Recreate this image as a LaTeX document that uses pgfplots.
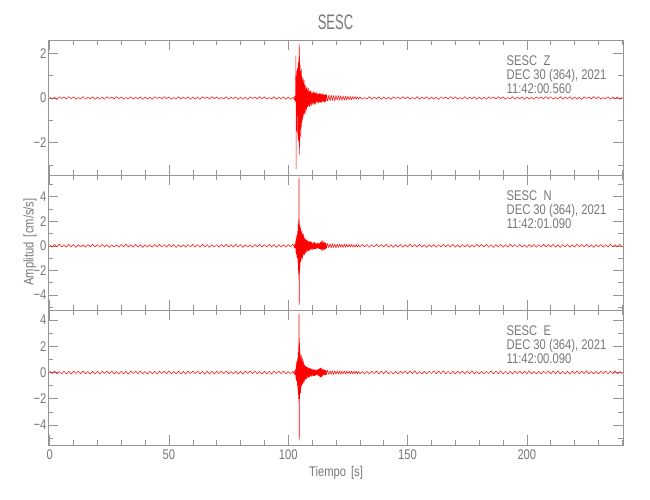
\documentclass[border=0pt]{standalone}
\usepackage{fontspec}
\setmainfont[FakeStretch=0.8]{Liberation Sans}
\newfontfamily\titlefont[FakeStretch=0.62]{Liberation Sans}
\usepackage{pgfplots}
\usepackage{pgfplotstable}
\pgfplotsset{compat=1.18}
\definecolor{axgray}{RGB}{150,150,150}
\definecolor{txtgray}{RGB}{120,120,120}

\pgfplotstableread{
t z n e
0 0.04 0.09 0.11
1 -0.05 -0.12 -0.09
2 0.03 0.11 0.12
3 -0.06 -0.08 -0.10
4 0.05 0.13 0.08
5 -0.02 -0.10 -0.12
6 0.04 0.09 0.10
7 -0.04 -0.11 -0.11
8 0.06 0.12 0.09
9 -0.03 -0.09 -0.13
10 0.05 0.10 0.11
11 -0.05 -0.13 -0.08
12 0.02 0.08 0.11
13 -0.04 -0.10 -0.09
14 0.06 0.09 0.12
15 -0.05 -0.12 -0.10
16 0.03 0.11 0.08
17 -0.03 -0.08 -0.12
18 0.05 0.13 0.10
19 -0.06 -0.10 -0.11
20 0.04 0.09 0.09
21 -0.05 -0.11 -0.13
22 0.03 0.12 0.11
23 -0.06 -0.09 -0.08
24 0.05 0.10 0.11
25 -0.02 -0.13 -0.09
26 0.04 0.08 0.12
27 -0.04 -0.10 -0.10
28 0.06 0.09 0.08
29 -0.03 -0.12 -0.12
30 0.05 0.11 0.10
31 -0.05 -0.08 -0.11
32 0.02 0.13 0.09
33 -0.04 -0.10 -0.13
34 0.06 0.09 0.11
35 -0.05 -0.11 -0.08
36 0.03 0.12 0.11
37 -0.03 -0.09 -0.09
38 0.05 0.10 0.12
39 -0.06 -0.13 -0.10
40 0.04 0.08 0.08
41 -0.05 -0.10 -0.12
42 0.03 0.09 0.10
43 -0.06 -0.12 -0.11
44 0.05 0.11 0.09
45 -0.02 -0.08 -0.13
46 0.04 0.13 0.11
47 -0.04 -0.10 -0.08
48 0.06 0.09 0.11
49 -0.03 -0.11 -0.09
50 0.05 0.12 0.12
51 -0.05 -0.09 -0.10
52 0.02 0.10 0.08
53 -0.04 -0.13 -0.12
54 0.06 0.08 0.10
55 -0.05 -0.10 -0.11
56 0.03 0.09 0.09
57 -0.03 -0.12 -0.13
58 0.05 0.11 0.11
59 -0.06 -0.08 -0.08
60 0.04 0.13 0.11
61 -0.05 -0.10 -0.09
62 0.03 0.09 0.12
63 -0.06 -0.11 -0.10
64 0.05 0.12 0.08
65 -0.02 -0.09 -0.12
66 0.04 0.10 0.10
67 -0.04 -0.13 -0.11
68 0.06 0.08 0.09
69 -0.03 -0.10 -0.13
70 0.05 0.09 0.11
71 -0.05 -0.12 -0.08
72 0.02 0.11 0.11
73 -0.04 -0.08 -0.09
74 0.06 0.13 0.12
75 -0.05 -0.10 -0.10
76 0.03 0.09 0.08
77 -0.03 -0.11 -0.12
78 0.05 0.12 0.10
79 -0.06 -0.09 -0.11
80 0.04 0.10 0.09
81 -0.05 -0.13 -0.13
82 0.03 0.08 0.11
83 -0.06 -0.10 -0.08
84 0.05 0.09 0.11
85 -0.02 -0.12 -0.09
86 0.04 0.11 0.12
87 -0.04 -0.08 -0.10
88 0.06 0.13 0.08
89 -0.03 -0.10 -0.12
90 0.05 0.09 0.10
91 -0.05 -0.11 -0.11
92 0.02 0.12 0.09
93 -0.04 -0.09 -0.13
94 0.06 0.10 0.11
95 -0.05 -0.13 -0.08
96 0.03 0.08 0.11
97 -0.03 -0.10 -0.09
98 0.05 0.09 0.12
99 -0.06 -0.12 -0.10
100 0.04 0.11 0.08
101 -0.05 -0.08 -0.12
102 0.03 0.13 0.10
102.6 -0.08 -0.15 -0.14
102.7 0.10 0.14 0.15
102.8 -0.12 -0.16 -0.15
102.9 0.10 0.15 0.16
103.0 -0.15 -0.20 -0.20
103.1 0.5 0.4 0.3
103.2 1.9 -0.6 -0.5
103.3 -3.2 0.8 0.6
103.4 1.2 -0.7 -0.6
103.5 -1.5 0.6 0.8
103.6 1.0 -0.9 -0.7
103.7 -0.8 0.9 0.9
103.8 1.3 -1.0 -1.0
103.9 -1.6 1.2 1.1
104.0 1.4 -1.4 -1.3
104.1 -1.9 1.8 1.5
104.2 1.6 -2.0 -1.7
104.3 -1.2 2.2 2.0
104.4 1.8 -2.7 -2.3
104.5 -2.0 5.56 4.5
104.6 2.43 -4.82 -5.14
104.7 -2.54 2.0 2.6
104.8 1.9 -2.2 -2.0
104.9 -1.7 1.6 1.8
105.0 1.5 -1.7 -1.5
105.1 -1.4 1.5 1.4
105.2 1.2 -1.3 -1.6
105.3 -1.8 1.4 1.2
105.4 1.0 -1.2 -1.1
105.5 -1.3 1.1 1.3
105.6 1.3 -1.0 -1.0
105.7 -1.1 1.2 1.0
105.8 0.9 -0.9 -0.9
105.9 -0.9 1.0 1.1
106.0 0.8 -1.1 -0.9
106.1 -1.0 0.9 0.8
106.2 0.9 -0.8 -0.8
106.3 -0.7 1.0 0.9
106.4 0.6 -0.7 -0.7
106.5 -0.8 0.8 0.7
106.6 0.8 -0.7 -0.75
106.7 -0.7 0.6 0.6
106.8 0.5 -0.75 -0.6
106.9 -0.6 0.6 0.55
107.0 0.6 -0.5 -0.6
107.1 -0.7 0.65 0.5
107.2 0.55 -0.55 -0.55
107.3 -0.5 0.5 0.5
107.4 0.4 -0.6 -0.45
107.5 -0.6 0.45 0.45
107.6 0.45 -0.5 -0.5
107.7 -0.5 0.5 0.4
107.8 0.5 -0.4 -0.45
107.9 -0.4 0.45 0.4
108.0 0.4 -0.45 -0.4
108.2 -0.4 0.4 0.38
108.4 0.45 -0.45 -0.4
108.6 -0.35 0.35 0.35
108.8 0.3 -0.4 -0.33
109.0 -0.4 0.35 0.35
109.2 0.35 -0.3 -0.3
109.4 -0.3 0.35 0.3
109.6 0.3 -0.3 -0.32
109.8 -0.35 0.3 0.28
110.0 0.25 -0.35 -0.3
110.2 -0.3 0.28 0.26
110.4 0.3 -0.3 -0.25
110.6 -0.25 0.25 0.25
110.8 0.28 -0.28 -0.27
111.0 -0.3 0.3 0.22
111.2 0.22 -0.25 -0.25
111.4 -0.25 0.22 0.22
111.6 0.25 -0.25 -0.2
111.8 -0.2 0.2 0.22
112.0 0.25 -0.22 -0.2
112.2 -0.22 0.25 0.22
112.4 0.2 -0.2 -0.24
112.6 -0.24 0.22 0.26
112.8 0.2 -0.25 -0.28
113.0 -0.18 0.2 0.3
113.2 0.22 -0.25 -0.32
113.4 -0.2 0.3 0.36
113.6 0.18 -0.3 -0.38
113.8 -0.22 0.35 0.35
114.0 0.2 -0.4 -0.33
114.2 -0.18 0.45 0.3
114.4 0.2 -0.4 -0.28
114.6 -0.16 0.42 0.25
114.8 0.18 -0.35 -0.22
115.0 -0.2 0.3 0.22
115.2 0.15 -0.32 -0.2
115.4 -0.18 0.25 0.2
115.6 0.16 -0.25 -0.18
115.8 -0.15 0.22 0.17
116.0 0.15 -0.2 -0.16
116.5 -0.15 0.2 0.17
117.0 0.14 -0.18 -0.16
117.5 -0.13 0.18 0.15
118.0 0.14 -0.16 -0.16
118.5 -0.12 0.17 0.14
119.0 0.12 -0.15 -0.15
119.5 -0.13 0.15 0.14
120.0 0.11 -0.16 -0.13
120.5 -0.1 0.14 0.13
121.0 0.12 -0.14 -0.14
121.5 -0.1 0.15 0.12
122.0 0.1 -0.13 -0.13
122.5 -0.11 0.12 0.12
123.0 0.09 -0.14 -0.11
123.5 -0.1 0.13 0.12
124.0 0.08 -0.12 -0.11
124.5 -0.09 0.12 0.11
125.0 0.08 -0.11 -0.1
125.5 -0.08 0.12 0.11
126.0 0.07 -0.1 -0.1
126.5 -0.08 0.11 0.1
127.0 0.07 -0.1 -0.1
127.5 -0.06 0.1 0.1
128.0 0.07 -0.11 -0.09
128.5 -0.06 0.1 0.1
129.0 0.06 -0.1 -0.1
129.5 -0.06 0.09 0.09
130.0 0.05 -0.1 -0.1
131 -0.05 0.10 0.08
132 0.02 -0.09 -0.11
133 -0.04 0.11 0.09
134 0.06 -0.12 -0.12
135 -0.05 0.09 0.10
136 0.03 -0.10 -0.08
137 -0.03 0.13 0.12
138 0.05 -0.08 -0.10
139 -0.06 0.10 0.11
140 0.04 -0.09 -0.09
141 -0.05 0.12 0.13
142 0.03 -0.11 -0.11
143 -0.06 0.08 0.08
144 0.05 -0.13 -0.11
145 -0.02 0.10 0.09
146 0.04 -0.09 -0.12
147 -0.04 0.11 0.10
148 0.06 -0.12 -0.08
149 -0.03 0.09 0.12
150 0.05 -0.10 -0.10
151 -0.05 0.13 0.11
152 0.02 -0.08 -0.09
153 -0.04 0.10 0.13
154 0.06 -0.09 -0.11
155 -0.05 0.12 0.08
156 0.03 -0.11 -0.11
157 -0.03 0.08 0.09
158 0.05 -0.13 -0.12
159 -0.06 0.10 0.10
160 0.04 -0.09 -0.08
161 -0.05 0.11 0.12
162 0.03 -0.12 -0.10
163 -0.06 0.09 0.11
164 0.05 -0.10 -0.09
165 -0.02 0.13 0.13
166 0.04 -0.08 -0.11
167 -0.04 0.10 0.08
168 0.06 -0.09 -0.11
169 -0.03 0.12 0.09
170 0.05 -0.11 -0.12
171 -0.05 0.08 0.10
172 0.02 -0.13 -0.08
173 -0.04 0.10 0.12
174 0.06 -0.09 -0.10
175 -0.05 0.11 0.11
176 0.03 -0.12 -0.09
177 -0.03 0.09 0.13
178 0.05 -0.10 -0.11
179 -0.06 0.13 0.08
180 0.04 -0.08 -0.11
181 -0.05 0.10 0.09
182 0.03 -0.09 -0.12
183 -0.06 0.12 0.10
184 0.05 -0.11 -0.08
185 -0.02 0.08 0.12
186 0.04 -0.13 -0.10
187 -0.04 0.10 0.11
188 0.06 -0.09 -0.09
189 -0.03 0.11 0.13
190 0.05 -0.12 -0.11
191 -0.05 0.09 0.08
192 0.02 -0.10 -0.11
193 -0.04 0.13 0.09
194 0.06 -0.08 -0.12
195 -0.05 0.10 0.10
196 0.03 -0.09 -0.08
197 -0.03 0.12 0.12
198 0.05 -0.11 -0.10
199 -0.06 0.08 0.11
200 0.04 -0.13 -0.09
201 -0.05 0.10 0.13
202 0.03 -0.09 -0.11
203 -0.06 0.11 0.08
204 0.05 -0.12 -0.11
205 -0.02 0.09 0.09
206 0.04 -0.10 -0.12
207 -0.04 0.13 0.10
208 0.06 -0.08 -0.08
209 -0.03 0.10 0.12
210 0.05 -0.09 -0.10
211 -0.05 0.12 0.11
212 0.02 -0.11 -0.09
213 -0.04 0.08 0.13
214 0.06 -0.13 -0.11
215 -0.05 0.10 0.08
216 0.03 -0.09 -0.11
217 -0.03 0.11 0.09
218 0.05 -0.12 -0.12
219 -0.06 0.09 0.10
220 0.04 -0.10 -0.08
221 -0.05 0.13 0.12
222 0.03 -0.08 -0.10
223 -0.06 0.10 0.11
224 0.05 -0.09 -0.09
225 -0.02 0.12 0.13
226 0.04 -0.11 -0.11
227 -0.04 0.08 0.08
228 0.06 -0.13 -0.11
229 -0.03 0.10 0.09
230 0.05 -0.09 -0.12
231 -0.05 0.11 0.10
232 0.02 -0.12 -0.08
233 -0.04 0.09 0.12
234 0.06 -0.10 -0.10
235 -0.05 0.13 0.11
236 0.03 -0.08 -0.09
237 -0.03 0.10 0.13
238 0.05 -0.09 -0.11
239 -0.06 0.12 0.08
240 0.04 -0.11 -0.11
}\seis

\pgfplotsset{
  panel/.style={
    scale only axis, width=575bp, height=135bp,
    xmin=-0.7, xmax=240.3,
    anchor=south west,
    axis line style={axgray, line width=0.6bp},
    every tick/.style={axgray, line width=0.6bp},
    tick align=inside, tick pos=both,
    xtick={0,50,100,150,200},
    minor xtick={0,10,...,240},
    major tick length=10bp, minor tick length=5bp,
    ticklabel style={font=\fontsize{14bp}{16bp}\selectfont, text=txtgray},
    yticklabel style={inner sep=1.5bp},
    xticklabel style={inner sep=0bp, yshift=-5bp},
    xticklabels={},
    clip=true,
  },
  trace/.style={red, line width=0.5bp, no marks, line join=bevel},
}

\begin{document}
\begin{tikzpicture}[x=1bp,y=1bp]
\fill[white] (0,0) rectangle (650,500);

\begin{axis}[panel, at={(48bp,325bp)},
  ymin=-3.45, ymax=2.6,
  ytick={-2,0,2}, yticklabels={−2,0,2},
  minor ytick={-3,-1,1}]
\addplot[trace] table[x=t, y=z] {\seis};
\end{axis}

\begin{axis}[panel, at={(48bp,190bp)},
  ymin=-5.22, ymax=5.76,
  ytick={-4,-2,0,2,4}, yticklabels={−4,−2,0,2,4},
  minor ytick={-5,-3,-1,1,3,5}]
\addplot[trace] table[x=t, y=n] {\seis};
\end{axis}

\begin{axis}[panel, at={(48bp,55bp)},
  ymin=-5.52, ymax=4.76,
  ytick={-4,-2,0,2,4}, yticklabels={−4,−2,0,2,4},
  minor ytick={-5,-3,-1,1,3},
  xticklabels={0,50,100,150,200}]
\addplot[trace] table[x=t, y=e] {\seis};
\end{axis}

\begin{scope}[every node/.style={text=txtgray, font=\fontsize{14bp}{16bp}\selectfont, inner sep=0pt}]
\node[font=\titlefont\fontsize{21bp}{24bp}\selectfont, anchor=base] at (335.5,470) {SESC};
\node[anchor=base] at (336,23) {Tiempo\hspace{5bp}[s]};
\node[anchor=base, rotate=90] at (33.5,258) {Amplitud\hspace{5bp}[cm/s/s]};

\node[anchor=base west] at (506.5,434) {\makebox[36.8bp][l]{SESC}Z};
\node[anchor=base west] at (506.5,420) {DEC 30 (364), 2021};
\node[anchor=base west] at (506.5,406) {11:42:00.560};

\node[anchor=base west] at (506.5,299) {\makebox[36.8bp][l]{SESC}N};
\node[anchor=base west] at (506.5,285) {DEC 30 (364), 2021};
\node[anchor=base west] at (506.5,271) {11:42:01.090};

\node[anchor=base west] at (506.5,164) {\makebox[36.8bp][l]{SESC}E};
\node[anchor=base west] at (506.5,150) {DEC 30 (364), 2021};
\node[anchor=base west] at (506.5,136) {11:42:00.090};
\end{scope}
\end{tikzpicture}
\end{document}
